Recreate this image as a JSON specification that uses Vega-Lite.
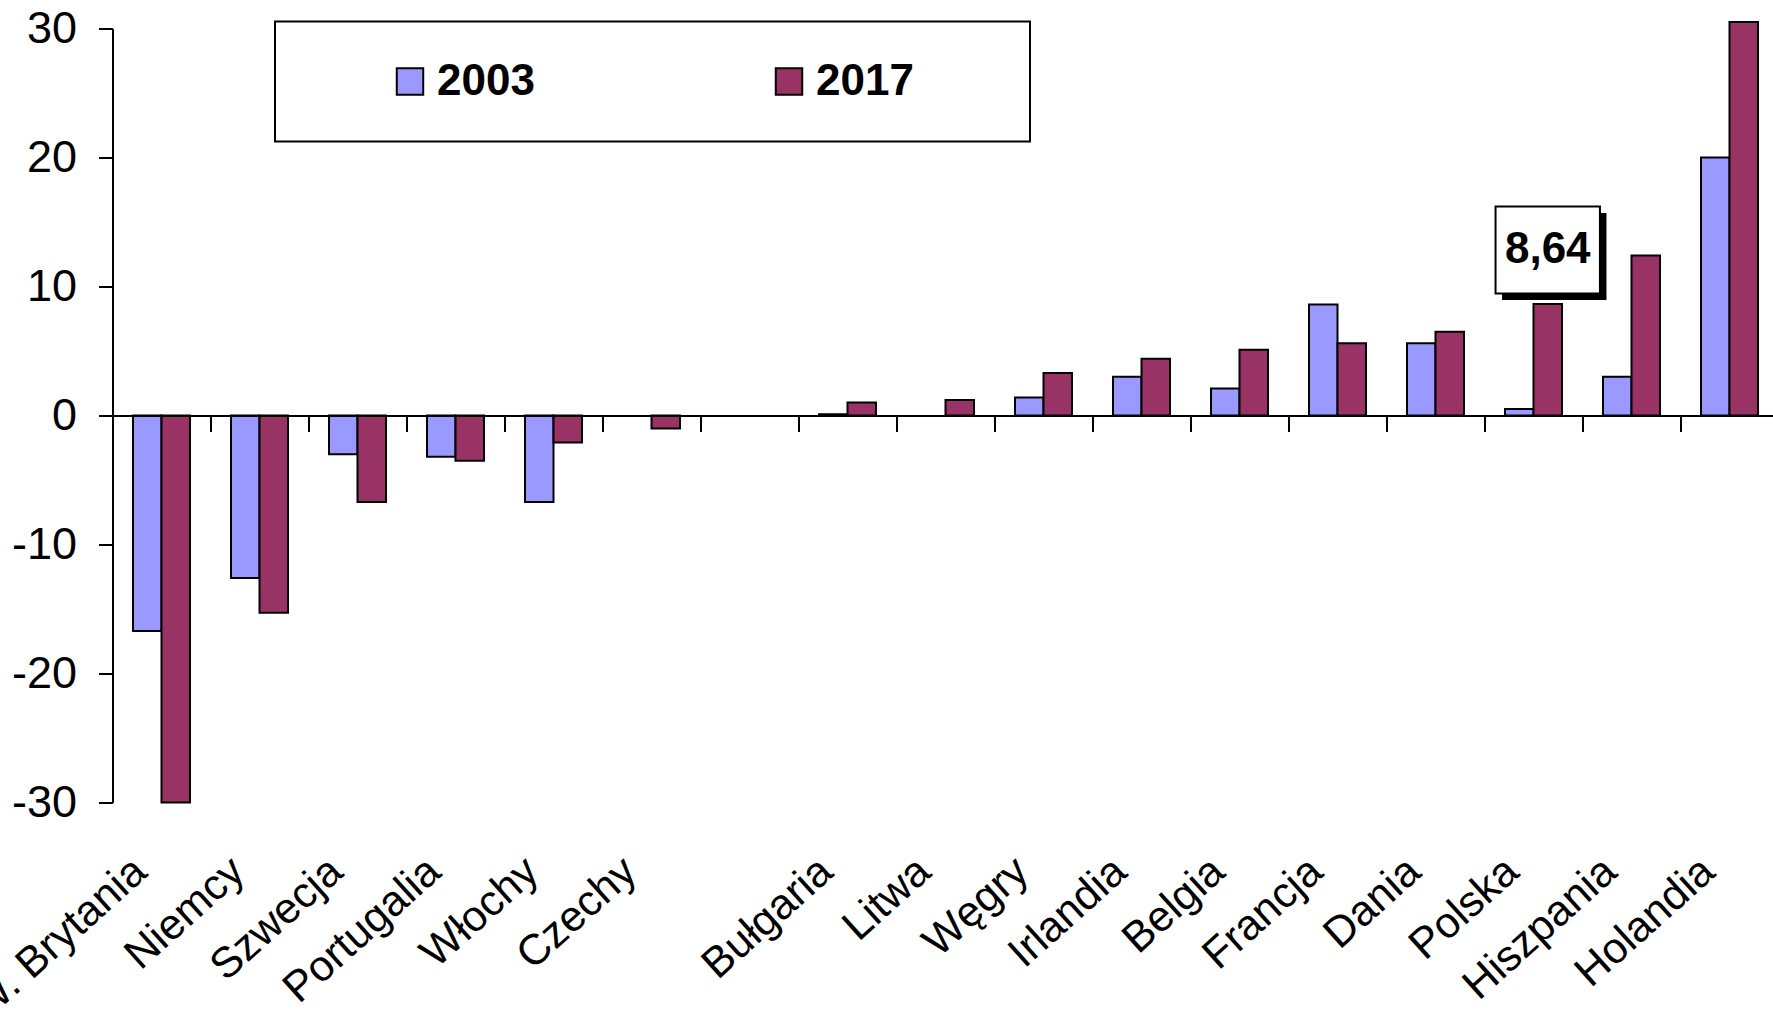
{
  "$schema": "https://vega.github.io/schema/vega-lite/v6.json",
  "width": 1666,
  "height": 774,
  "autosize": "none",
  "padding": {"left": 112.5, "top": 28.5, "right": -5.5, "bottom": 210.5},
  "config": {
    "locale": {"number": {"decimal": ",", "thousands": " ", "grouping": [3], "currency": ["", ""], "minus": "-"}},
    "view": {"stroke": null},
    "font": "Liberation Sans",
    "legend": {"strokeWidth": 2}
  },
  "data": {
    "values": [
      {"country": "W. Brytania", "year": "2003", "value": -16.7},
      {"country": "W. Brytania", "year": "2017", "value": -30.0},
      {"country": "Niemcy", "year": "2003", "value": -12.6},
      {"country": "Niemcy", "year": "2017", "value": -15.3},
      {"country": "Szwecja", "year": "2003", "value": -3.0},
      {"country": "Szwecja", "year": "2017", "value": -6.7},
      {"country": "Portugalia", "year": "2003", "value": -3.2},
      {"country": "Portugalia", "year": "2017", "value": -3.5},
      {"country": "Włochy", "year": "2003", "value": -6.7},
      {"country": "Włochy", "year": "2017", "value": -2.1},
      {"country": "Czechy", "year": "2017", "value": -1.0},
      {"country": "Bułgaria", "year": "2003", "value": 0.1},
      {"country": "Bułgaria", "year": "2017", "value": 1.0},
      {"country": "Litwa", "year": "2017", "value": 1.2},
      {"country": "Węgry", "year": "2003", "value": 1.4},
      {"country": "Węgry", "year": "2017", "value": 3.3},
      {"country": "Irlandia", "year": "2003", "value": 3.0},
      {"country": "Irlandia", "year": "2017", "value": 4.4},
      {"country": "Belgia", "year": "2003", "value": 2.1},
      {"country": "Belgia", "year": "2017", "value": 5.1},
      {"country": "Francja", "year": "2003", "value": 8.6},
      {"country": "Francja", "year": "2017", "value": 5.6},
      {"country": "Dania", "year": "2003", "value": 5.6},
      {"country": "Dania", "year": "2017", "value": 6.5},
      {"country": "Polska", "year": "2003", "value": 0.5},
      {"country": "Polska", "year": "2017", "value": 8.64},
      {"country": "Hiszpania", "year": "2003", "value": 3.0},
      {"country": "Hiszpania", "year": "2017", "value": 12.4},
      {"country": "Holandia", "year": "2003", "value": 20.0},
      {"country": "Holandia", "year": "2017", "value": 30.5}
    ]
  },
  "encoding": {
    "x": {
      "field": "country",
      "type": "nominal",
      "scale": {
        "domain": ["W. Brytania", "Niemcy", "Szwecja", "Portugalia", "Włochy", "Czechy", " ", "Bułgaria", "Litwa", "Węgry", "Irlandia", "Belgia", "Francja", "Dania", "Polska", "Hiszpania", "Holandia"],
        "paddingInner": 0,
        "paddingOuter": 0
      },
      "axis": {
        "title": null,
        "orient": "bottom",
        "offset": -387,
        "domainColor": "black",
        "domainWidth": 2,
        "tickBand": "extent",
        "tickColor": "black",
        "tickWidth": 2,
        "tickSize": 16,
        "labelAngle": -42,
        "labelAlign": "right",
        "labelBaseline": "alphabetic",
        "labelFontSize": 43,
        "labelFont": "Liberation Sans",
        "labelPadding": 443,
        "labelOffset": -13,
        "labelColor": "black",
        "labelOverlap": false,
        "labelBound": false,
        "labelFlush": false,
        "labelLimit": 0,
        "zindex": 1
      }
    },
    "xOffset": {
      "field": "year",
      "type": "nominal",
      "scale": {"domain": ["2003", "2017"], "paddingInner": 0, "paddingOuter": 0.72}
    },
    "y": {
      "field": "value",
      "type": "quantitative",
      "scale": {"domain": [-30, 30], "nice": false},
      "axis": {
        "title": null,
        "values": [-30, -20, -10, 0, 10, 20, 30],
        "format": "d",
        "grid": false,
        "domainColor": "black",
        "domainWidth": 2,
        "tickColor": "black",
        "tickWidth": 2,
        "tickSize": 14,
        "labelFontSize": 45,
        "labelFont": "Liberation Sans",
        "labelColor": "black",
        "labelPadding": 22,
        "zindex": 1
      }
    }
  },
  "layer": [
    {
      "mark": {"type": "bar", "stroke": "black", "strokeWidth": 2},
      "encoding": {
        "color": {
          "field": "year",
          "type": "nominal",
          "scale": {"domain": ["2003", "2017"], "range": ["#9999FF", "#993366"]},
          "legend": {
            "orient": "none",
            "legendX": 162.5,
            "legendY": -7,
            "direction": "horizontal",
            "title": " ",
            "titleOrient": "right",
            "titlePadding": 78,
            "titleFontSize": 1,
            "padding": 38,
            "strokeColor": "black",
            "fillColor": "white",
            "symbolType": "square",
            "symbolSize": 700,
            "symbolStrokeColor": "black",
            "symbolStrokeWidth": 2,
            "symbolOffset": 75,
            "labelOffset": 5,
            "labelFontSize": 44,
            "labelFont": "Liberation Sans",
            "labelFontWeight": "bold",
            "labelColor": "black",
            "columnPadding": 157
          }
        }
      }
    },
    {
      "transform": [{"filter": "datum.country === 'Polska' && datum.year === '2017'"}],
      "mark": {"type": "point", "shape": "M-1.05,-0.85H1.35V1.15H-1.05Z", "size": 7569, "filled": true, "fill": "black", "strokeWidth": 0, "opacity": 1, "yOffset": -54}
    },
    {
      "transform": [{"filter": "datum.country === 'Polska' && datum.year === '2017'"}],
      "mark": {"type": "point", "shape": "M-1.2,-1H1.2V1H-1.2Z", "size": 7569, "filled": true, "fill": "white", "stroke": "black", "strokeWidth": 2, "opacity": 1, "yOffset": -54}
    },
    {
      "transform": [{"filter": "datum.country === 'Polska' && datum.year === '2017'"}],
      "mark": {"type": "text", "fontSize": 44, "fontWeight": "bold", "font": "Liberation Sans", "color": "black", "align": "center", "baseline": "middle", "yOffset": -54},
      "encoding": {"text": {"field": "value", "type": "quantitative", "format": ".2f"}}
    }
  ]
}
